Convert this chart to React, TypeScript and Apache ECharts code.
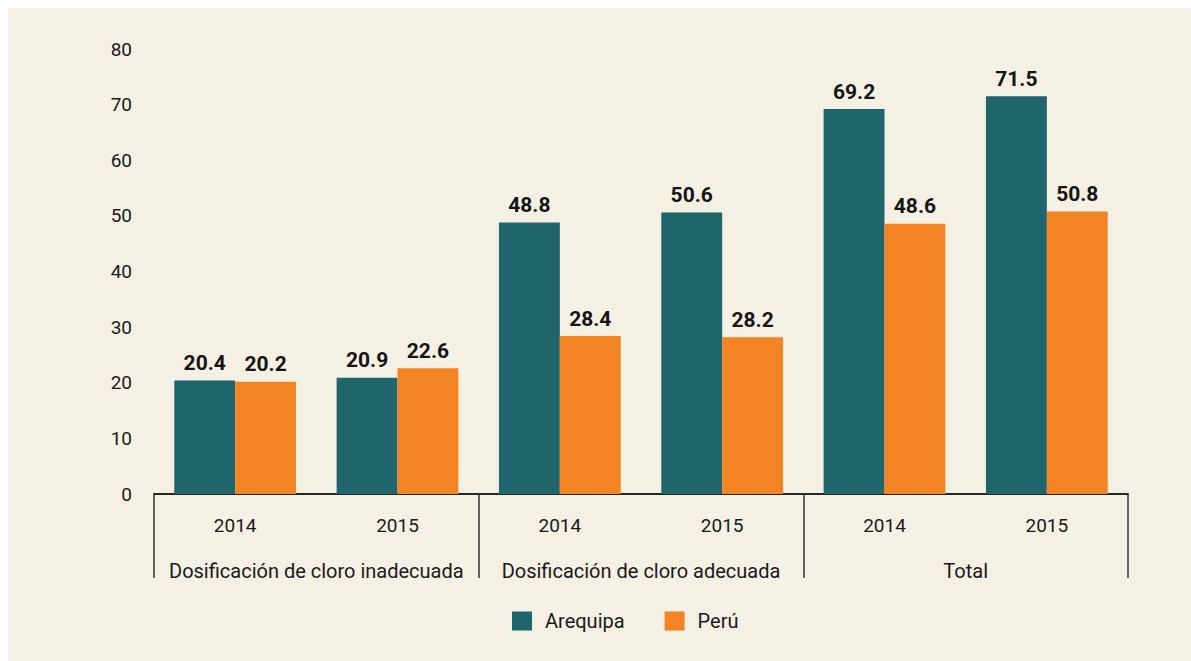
import React, { useEffect, useRef } from "react";
import * as echarts from "echarts";

const years = ["2014", "2015", "2014", "2015", "2014", "2015"];
const groups = [
  "Dosificación de cloro inadecuada",
  "Dosificación de cloro adecuada",
  "Total",
];
const arequipa = [20.4, 20.9, 48.8, 50.6, 69.2, 71.5];
const peru = [20.2, 22.6, 28.4, 28.2, 48.6, 50.8];
const yTicks = { min: 0, max: 80, interval: 10 };

const FONT = "Roboto, 'Noto Sans', sans-serif";

export default function App() {
  const ref = useRef<HTMLDivElement>(null);
  useEffect(() => {
    if (!ref.current) return;
    const chart = echarts.init(ref.current, null, { renderer: "svg" });
    const labelStyle = {
      show: true,
      position: "top",
      distance: 7,
      color: "#151515",
      fontFamily: FONT,
      fontWeight: "bold",
      fontSize: 21,
      formatter: (p: any) => p.value.toFixed(1),
    };
    chart.setOption({
      animation: false,
      backgroundColor: "#F4F0E3",
      textStyle: { fontFamily: FONT },
      grid: { left: 146, right: 63, top: 41, bottom: 167, containLabel: false },
      legend: {
        bottom: 30,
        left: 504,
        padding: 0,
        itemWidth: 20,
        itemHeight: 19,
        itemGap: 40,
        icon: "rect",
        textStyle: { fontSize: 20, color: "#1a1a1a", fontFamily: FONT, padding: [0, 0, 0, 8] },
        data: ["Arequipa", "Perú"],
      },
      xAxis: [
        {
          type: "category",
          data: years,
          axisLine: { show: true, lineStyle: { color: "#1a1a1a", width: 1.5 } },
          axisTick: { show: false },
          axisLabel: { interval: 0, margin: 22, fontSize: 19, color: "#1a1a1a", fontFamily: FONT },
        },
        {
          type: "category",
          data: groups,
          position: "bottom",
          axisLine: { show: true, lineStyle: { color: "#1a1a1a", width: 1.5 } },
          axisTick: { show: true, interval: 0, length: 84, lineStyle: { color: "#333", width: 1.5 } },
          axisLabel: { interval: 0, margin: 67, fontSize: 20, color: "#1a1a1a", fontFamily: FONT },
        },
      ],
      yAxis: {
        type: "value",
        min: yTicks.min,
        max: yTicks.max,
        interval: yTicks.interval,
        axisLine: { show: false },
        axisTick: { show: false },
        splitLine: { show: false },
        axisLabel: { margin: 22, fontSize: 19, color: "#1a1a1a", fontFamily: FONT },
      },
      series: [
        {
          name: "Arequipa",
          type: "bar",
          data: arequipa,
          xAxisIndex: 0,
          barGap: "0%",
          barCategoryGap: "25%",
          itemStyle: { color: "#1F656B" },
          label: labelStyle,
        },
        {
          name: "Perú",
          type: "bar",
          data: peru,
          xAxisIndex: 0,
          barGap: "0%",
          barCategoryGap: "25%",
          itemStyle: { color: "#F38423" },
          label: labelStyle,
        },
      ],
    });
    return () => chart.dispose();
  }, []);
  return (
    <div
      ref={ref}
      style={{ position: "absolute", left: 8, top: 8, width: 1183, height: 653 }}
    />
  );
}
